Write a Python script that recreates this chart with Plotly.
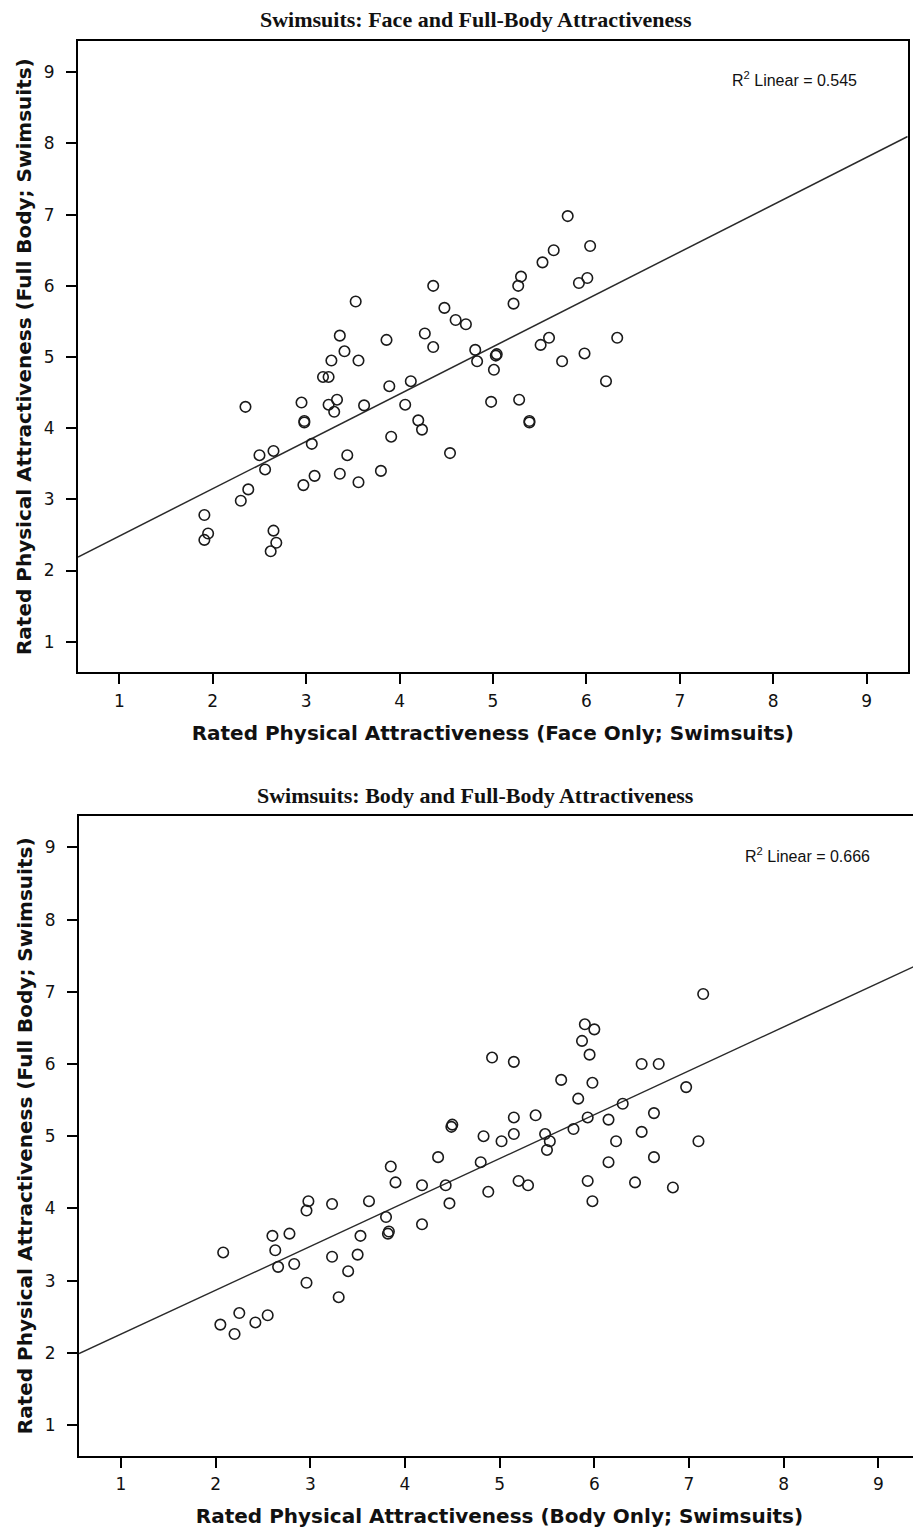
import plotly.graph_objects as go

# ---------------- data ----------------
# Panel 1: Face only (x) vs Full body (y)
face_x = [3.53, 3.36, 3.86, 3.41, 3.27, 3.56, 3.18, 3.24, 4.27, 3.89, 4.12, 2.95, 3.24, 3.33,
          3.30, 3.62, 4.06, 2.35, 2.98, 2.98, 4.20, 4.24, 3.06, 3.91, 2.50, 2.65, 2.56, 3.44,
          3.09, 2.97, 3.36, 3.56, 3.80, 2.38, 2.30, 1.91, 1.95, 1.91, 2.65, 2.68, 2.62,
          5.80, 6.04, 5.65, 5.53, 5.30, 5.27, 5.92, 6.01, 4.36, 5.22, 4.48, 4.60, 4.71, 4.36,
          4.81, 4.83, 5.03, 5.04, 5.01, 5.60, 5.51, 5.98, 5.74, 6.33, 6.21, 4.54, 4.98, 5.28,
          5.39, 5.39]
face_full_y = [5.78, 5.30, 5.24, 5.08, 4.95, 4.95, 4.72, 4.72, 5.33, 4.59, 4.66, 4.36, 4.33, 4.40,
               4.23, 4.32, 4.33, 4.30, 4.08, 4.10, 4.11, 3.98, 3.78, 3.88, 3.62, 3.68, 3.42, 3.62,
               3.33, 3.20, 3.36, 3.24, 3.40, 3.14, 2.98, 2.78, 2.52, 2.43, 2.56, 2.39, 2.27,
               6.98, 6.56, 6.50, 6.33, 6.13, 6.00, 6.04, 6.11, 6.00, 5.75, 5.69, 5.52, 5.46, 5.14,
               5.10, 4.94, 5.02, 5.04, 4.82, 5.27, 5.17, 5.05, 4.94, 5.27, 4.66, 3.65, 4.37, 4.40,
               4.08, 4.10]
face_r2 = 0.545
face_fit_intercept = 1.82
face_fit_slope = 0.665

# Panel 2: Body only (x) vs Full body (y)
body_x = [4.49, 4.50, 4.35, 3.85, 3.90, 4.18, 4.43, 4.47, 2.98, 2.96, 3.23, 3.62, 3.80, 3.82,
          3.83, 4.18, 2.60, 2.78, 2.63, 2.08, 2.66, 2.83, 3.53, 3.23, 3.50, 3.40, 2.96, 3.30,
          2.25, 2.55, 2.05, 2.42, 2.20,
          7.15, 5.90, 6.00, 5.87, 5.95, 4.92, 5.15, 6.50, 6.68, 5.65, 5.98, 6.97, 5.83, 6.30,
          5.38, 5.15, 5.93, 6.15, 6.63, 5.78, 5.48, 4.83, 5.02, 5.15, 5.53, 5.50, 6.23, 6.50,
          7.10, 6.63, 6.15, 4.80, 4.88, 5.20, 5.30, 5.93, 5.98, 6.43, 6.83]
body_full_y = [5.13, 5.16, 4.71, 4.58, 4.36, 4.32, 4.32, 4.07, 4.10, 3.97, 4.06, 4.10, 3.88, 3.65,
               3.68, 3.78, 3.62, 3.65, 3.42, 3.39, 3.19, 3.23, 3.62, 3.33, 3.36, 3.13, 2.97, 2.77,
               2.55, 2.52, 2.39, 2.42, 2.26,
               6.97, 6.55, 6.48, 6.32, 6.13, 6.09, 6.03, 6.00, 6.00, 5.78, 5.74, 5.68, 5.52, 5.45,
               5.29, 5.26, 5.26, 5.23, 5.32, 5.10, 5.03, 5.00, 4.93, 5.03, 4.93, 4.81, 4.93, 5.06,
               4.93, 4.71, 4.64, 4.64, 4.23, 4.38, 4.32, 4.38, 4.10, 4.36, 4.29]
body_r2 = 0.666
body_fit_intercept = 1.65
body_fit_slope = 0.608

tick_vals = [1, 2, 3, 4, 5, 6, 7, 8, 9]
tick_text = ["1", "2", "3", "4", "5", "6", "7", "8", "9"]

titles = ["Swimsuits: Face and Full-Body Attractiveness",
          "Swimsuits: Body and Full-Body Attractiveness"]
x_titles = ["Rated Physical Attractiveness (Face Only; Swimsuits)",
            "Rated Physical Attractiveness (Body Only; Swimsuits)"]
y_title = "Rated Physical Attractiveness (Full Body; Swimsuits)"

# ---------------- figure ----------------
W, H = 921, 1532
OFF = 8  # page body margin
X_RANGE = [0.557, 9.44]
Y_RANGE = [0.57, 9.44]

fig = go.Figure()

panels = [
    (face_x, face_full_y, face_fit_intercept, face_fit_slope, face_r2, "x", "y"),
    (body_x, body_full_y, body_fit_intercept, body_fit_slope, body_r2, "x2", "y2"),
]

for px, py, b0, b1, r2, xa, ya in panels:
    lx = [X_RANGE[0], X_RANGE[1]]
    ly = [b0 + b1 * v for v in lx]
    fig.add_trace(go.Scatter(x=lx, y=ly, mode="lines", xaxis=xa, yaxis=ya,
                             line=dict(color="#2a2a2a", width=1.5),
                             hoverinfo="skip", showlegend=False))
    fig.add_trace(go.Scatter(x=px, y=py, mode="markers", xaxis=xa, yaxis=ya,
                             marker=dict(symbol="circle-open", size=10.5, color="#1a1a1a",
                                         line=dict(width=1.6, color="#1a1a1a")),
                             showlegend=False))

# plot box geometry (page pixels)
boxes = [(78, 907.7, 41, 672.3), (79, 920, 815.7, 1456)]

def px_x(v):
    return (v - OFF) / W

def px_y(v):
    return 1 - (v - OFF) / H

def xdom(b):
    return [px_x(b[0]), px_x(b[1])]

def ydom(b):
    return [px_y(b[3]), px_y(b[2])]

tick_font = dict(family="DejaVu Sans", size=17, color="#111")
title_font = dict(family="DejaVu Sans", size=20, color="#111")

common_axis = dict(showline=True, linecolor="black", linewidth=2, mirror=True,
                   ticks="outside", ticklen=10, tickwidth=1.5, tickcolor="black",
                   showgrid=False, zeroline=False, tickfont=tick_font,
                   tickvals=tick_vals, ticktext=tick_text)

layout_axes = {}
for i, b in enumerate(boxes):
    sfx = "" if i == 0 else str(i + 1)
    layout_axes["xaxis" + sfx] = dict(common_axis, domain=xdom(b), range=X_RANGE,
                                      anchor="y" + sfx, ticklabelstandoff=2,
                                      title=dict(text="<b>" + x_titles[i] + "</b>",
                                                 font=title_font, standoff=16))
    layout_axes["yaxis" + sfx] = dict(common_axis, domain=ydom(b), range=Y_RANGE,
                                      anchor="x" + sfx, ticklabelstandoff=8,
                                      title=dict(text="<b>" + y_title + "</b>",
                                                 font=title_font, standoff=7))

annotations = []
title_y_px = [19.5, 795]
r2_pos = [(794, 79, face_r2), (807, 855, body_r2)]
for i, t in enumerate(titles):
    annotations.append(dict(text="<b>" + t + "</b>", x=px_x(475.5), y=px_y(title_y_px[i]),
                            xref="paper", yref="paper", showarrow=False,
                            xanchor="center", yanchor="middle",
                            font=dict(family="Liberation Serif", size=22, color="#111")))
for cx, cy, r2 in r2_pos:
    annotations.append(dict(text="R<sup>2</sup> Linear = %.3f" % r2, x=px_x(cx), y=px_y(cy),
                            xref="paper", yref="paper", showarrow=False,
                            xanchor="center", yanchor="middle",
                            font=dict(family="Liberation Sans", size=16, color="#111")))

fig.update_layout(width=W, height=H, margin=dict(l=0, r=0, t=0, b=0),
                  paper_bgcolor="white", plot_bgcolor="white",
                  annotations=annotations, **layout_axes)

fig.write_html("out.html")
